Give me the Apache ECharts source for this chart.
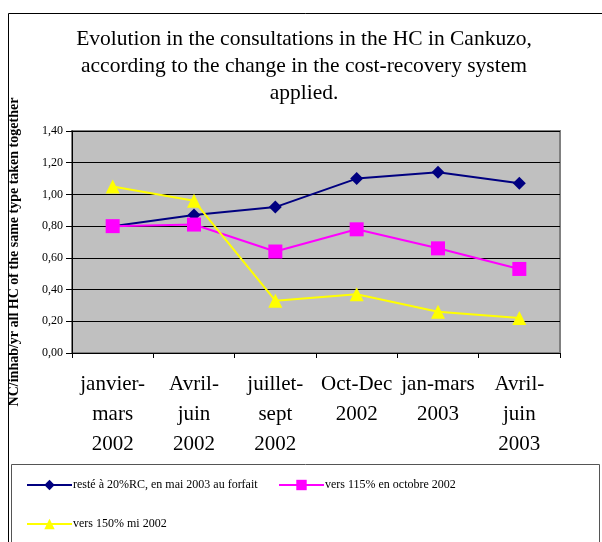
<!DOCTYPE html>
<html><head><meta charset="utf-8">
<script src="https://cdn.jsdelivr.net/npm/echarts@6/dist/echarts.min.js"></script>
<style>html,body{margin:0;padding:0;background:#fff}#c{width:602px;height:542px}</style>
</head><body><div id="c"></div>
<script>
const categories = ["janvier-\nmars\n2002", "Avril-\njuin\n2002", "juillet-\nsept\n2002", "Oct-Dec\n2002", "jan-mars\n2003", "Avril-\njuin\n2003"];
const seriesNames = ["resté à 20%RC, en mai 2003 au forfait", "vers 115% en octobre 2002", "vers 150% mi 2002"];
const reste20 = [0.80, 0.87, 0.92, 1.10, 1.14, 1.07];
const vers115 = [0.80, 0.81, 0.64, 0.78, 0.66, 0.53];
const vers150 = [1.05, 0.96, 0.33, 0.37, 0.26, 0.22];
const titleText = "Evolution in the consultations in the HC in Cankuzo,\naccording to the change in the cost-recovery system\napplied.";
const yTitle = "NC/inhab/yr all HC of the same type taken together";

const F = "'Liberation Serif','Times New Roman',serif";
const chart = echarts.init(document.getElementById('c'));
const mk = (name, data, color, symbol, size) => ({
  name, type: 'line', data, color, symbol, symbolSize: size,
  lineStyle: {color, width: 2}, itemStyle: {color}, animation: false
});
const leg = (name, left, top) => ({data: [name], left, top, padding: 0, itemWidth: 45, itemHeight: 13, itemGap: 0,
  textStyle: {fontFamily: F, fontSize: 12, color: '#000', padding: [0,0,0,-4]}});
chart.setOption({
  animation: false,
  title: {text: titleText, left: 299, textAlign: 'center', top: 21,
    textStyle: {fontFamily: F, fontSize: 21.5, fontWeight: 'normal', color: '#000', lineHeight: 27}},
  grid: {left: 72, right: 42, top: 131, bottom: 189, show: true, backgroundColor: '#C0C0C0', borderColor: '#808080', borderWidth: 2},
  xAxis: {type: 'category', data: categories, boundaryGap: true,
    axisLine: {lineStyle: {color: '#000', width: 1}},
    axisTick: {show: true, length: 5, lineStyle: {color: '#000'}},
    axisLabel: {fontFamily: F, fontSize: 21, color: '#000', lineHeight: 30, margin: 16, interval: 0}},
  yAxis: {type: 'value', min: 0, max: 1.4, interval: 0.2,
    axisLine: {show: true, lineStyle: {color: '#000', width: 1}},
    axisTick: {show: true, length: 6, lineStyle: {color: '#000'}},
    splitLine: {lineStyle: {color: '#000', width: 1}},
    axisLabel: {fontFamily: F, fontSize: 12, color: '#000', margin: 9,
      formatter: v => v.toFixed(2).replace('.', ',')}},
  legend: [
    leg(seriesNames[0], 26, 479),
    leg(seriesNames[1], 278, 479),
    leg(seriesNames[2], 26, 518)
  ],
  graphic: [
    {type: 'rect', shape: {x: 8.5, y: 13.5, width: 620, height: 560}, style: {fill: null, stroke: '#000', lineWidth: 1}, z: -1},
    {type: 'rect', shape: {x: 11.5, y: 464.5, width: 588, height: 100}, style: {fill: null, stroke: '#555', lineWidth: 1}, z: -1},
    {type: 'text', x: 14, y: 252, rotation: Math.PI / 2, style: {text: yTitle, font: "bold 14px " + F, fill: '#000', align: 'center', verticalAlign: 'middle'}}
  ],
  series: [
    mk(seriesNames[0], reste20, '#000080', 'diamond', 13),
    mk(seriesNames[1], vers115, '#FF00FF', 'rect', 14),
    mk(seriesNames[2], vers150, '#FFFF00', 'triangle', 14)
  ]
});
</script></body></html>
